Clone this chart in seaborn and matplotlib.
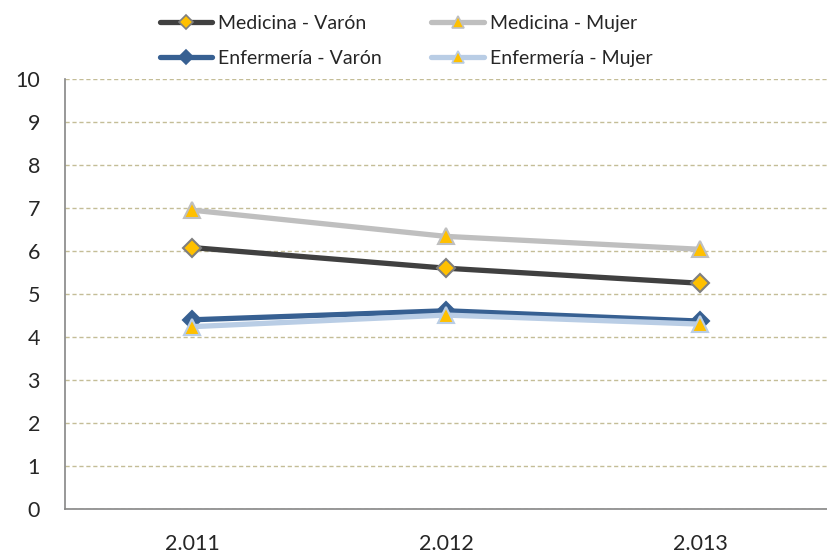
import numpy as np
import pandas as pd
import seaborn as sns
import matplotlib.pyplot as plt
from matplotlib.lines import Line2D

# data
years = ['2.011', '2.012', '2.013']
medicina_varon = [6.08, 5.60, 5.25]
medicina_mujer = [6.95, 6.34, 6.04]
enfermeria_varon = [4.40, 4.61, 4.37]
enfermeria_mujer = [4.24, 4.51, 4.30]

series_names = ['Medicina - Varón', 'Medicina - Mujer', 'Enfermería - Varón', 'Enfermería - Mujer']
series_values = [medicina_varon, medicina_mujer, enfermeria_varon, enfermeria_mujer]

df = pd.DataFrame({
    'pos': np.tile(np.arange(len(years)), len(series_names)),
    'valor': np.concatenate(series_values),
    'serie': np.repeat(series_names, len(years)),
})

sns.set_style('white')
plt.rcParams['font.family'] = ['Lato', 'DejaVu Sans']

styles = {
    'Medicina - Varón': dict(color='#404040', marker='D', mfc='#FFC000', mec='#7F7F7F', ms=9),
    'Medicina - Mujer': dict(color='#BFBFBF', marker='^', mfc='#FFC000', mec='#BFBFBF', ms=11),
    'Enfermería - Varón': dict(color='#376092', marker='D', mfc='#376092', mec='#376092', ms=9),
    'Enfermería - Mujer': dict(color='#B9CDE5', marker='^', mfc='#FFC000', mec='#B9CDE5', ms=11),
}

fig = plt.figure(figsize=(8.27, 5.57), dpi=100)
ax = fig.add_axes([65 / 827, 48 / 557, 1 - 65 / 827, 430 / 557])

for name in series_names:
    st = styles[name]
    sns.lineplot(data=df[df['serie'] == name], x='pos', y='valor', ax=ax,
                 color=st['color'], linewidth=3.8, marker=st['marker'],
                 markerfacecolor=st['mfc'], markeredgecolor=st['mec'],
                 markersize=st['ms'], markeredgewidth=1.5, legend=False)

ax.set_ylim(0, 10)
ax.set_xlim(-0.5, (827 - 65) / 257 - 0.5)
ax.set_yticks(range(0, 11))
ax.yaxis.grid(True, linestyle=(0, (3, 2)), color='#C4BD97', linewidth=1.0)
ax.set_axisbelow(True)

ax.set_xticks([-0.5, 0.5, 1.5, 2.5])
ax.set_xticklabels([])
ax.set_xticks(range(len(years)), minor=True)
ax.set_xticklabels(years, minor=True)
ax.tick_params(axis='x', which='major', direction='out', length=6, color='#868686', width=1)
ax.tick_params(axis='x', which='minor', length=0, pad=18, labelsize=15.5)
ax.tick_params(axis='y', direction='out', length=6, color='#868686', width=1, labelsize=15.5, pad=12)
ax.set_xlabel('')
ax.set_ylabel('')

for s in ['top', 'right']:
    ax.spines[s].set_visible(False)
for s in ['left', 'bottom']:
    ax.spines[s].set_color('#868686')
    ax.spines[s].set_linewidth(1.2)

handles = []
for name in ['Medicina - Varón', 'Enfermería - Varón', 'Medicina - Mujer', 'Enfermería - Mujer']:
    st = styles[name]
    handles.append(Line2D([], [], color=st['color'], linewidth=3.8, marker=st['marker'],
                          markerfacecolor=st['mfc'], markeredgecolor=st['mec'],
                          markersize=st['ms'] * 0.75, markeredgewidth=1.2, label=name))
fig.legend(handles=handles, ncol=2, loc='upper left', bbox_to_anchor=(152 / 827, 1 - 7 / 557),
           frameon=False, fontsize=14, handlelength=2.7, handletextpad=0.3,
           columnspacing=2.55, labelspacing=0.95, borderpad=0.4, borderaxespad=0)

fig.savefig('out.png', dpi=100)
